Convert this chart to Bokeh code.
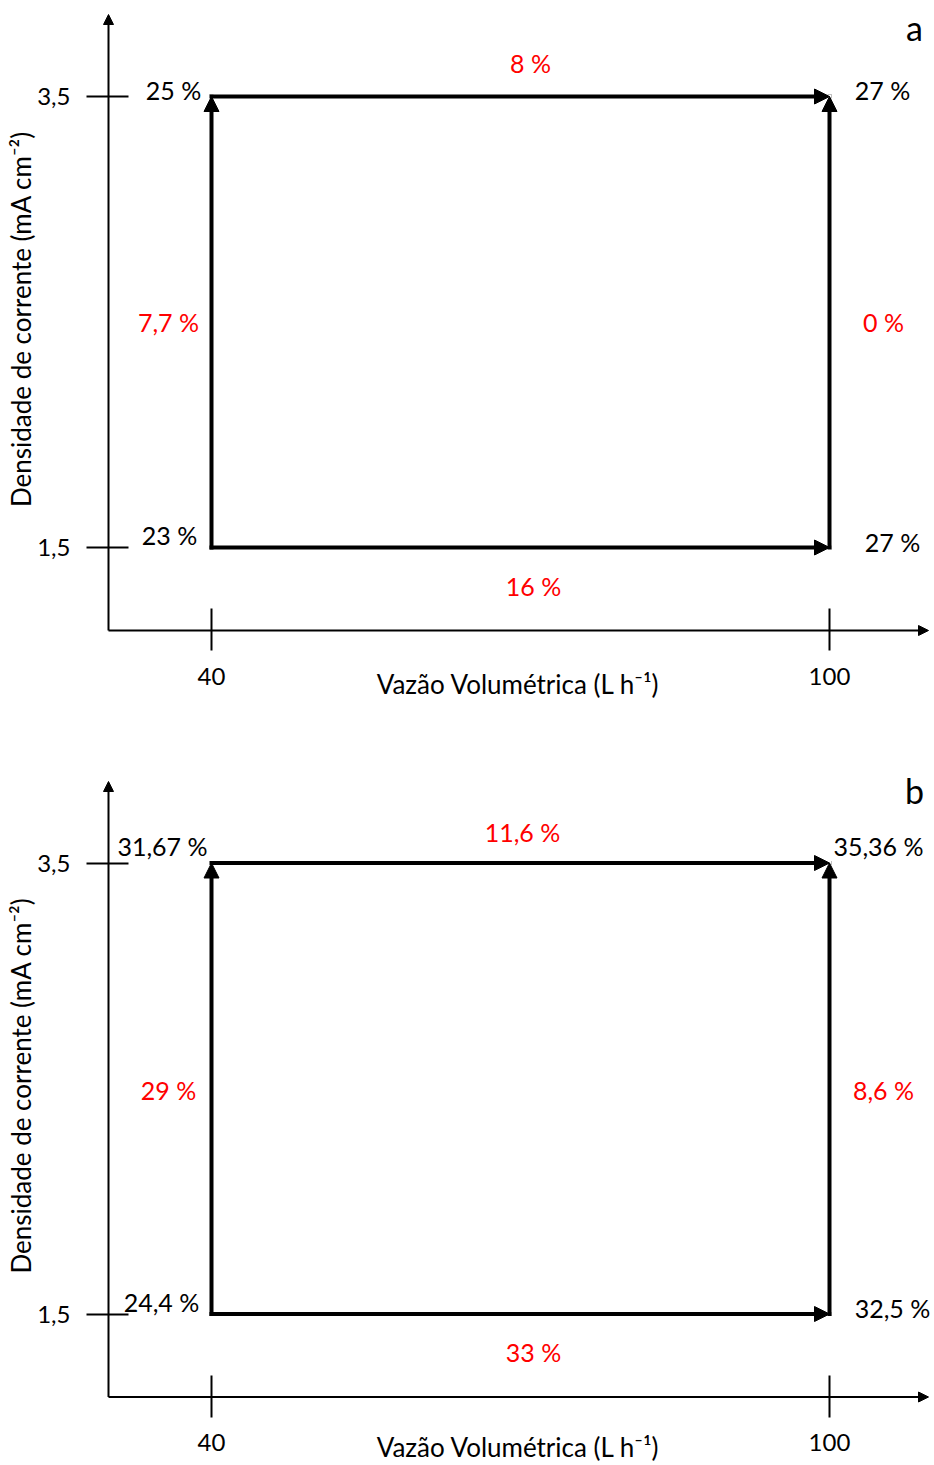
import math
from bokeh.plotting import figure
from bokeh.layouts import column
from bokeh.models import Arrow, NormalHead, FixedTicker, ColumnDataSource, Range1d
from bokeh.core.properties import value
from bokeh.embed import file_html
from bokeh.resources import INLINE

# ---------------- data ----------------
vazao = [40, 100]          # Vazão Volumétrica (L h-1)
densidade = [1.5, 3.5]     # Densidade de corrente (mA cm-2)
# corner order: (40,1.5), (40,3.5), (100,1.5), (100,3.5)
a_corner_labels = ["23 %", "25 %", "27 %", "27 %"]
b_corner_labels = ["24,4 %", "31,67 %", "32,5 %", "35,36 %"]
# edge order: bottom, left, top, right
a_edge_labels = ["16 %", "7,7 %", "8 %", "0 %"]
b_edge_labels = ["33 %", "29 %", "11,6 %", "8,6 %"]
panel_letters = ["a", "b"]
x_title = "Vazão Volumétrica (L h\u207b\u00b9)"
y_title = "Densidade de corrente (mA cm\u207b\u00b2)"
x_ticks = vazao
y_ticks = densidade
y_tick_labels = {v: str(v).replace(".", ",") for v in y_ticks}

# ---------------- style / layout (pixels) ----------------
FONT = value("Lato")
W = 934
PX_X = 10.3    # px per (L h-1)
PX_Y = 225.5   # px per (mA cm-2)
X40_PX = 211   # screen x of the first flow value
AXIS_GAP_X = 103   # y axis sits this far left of the first flow value
AXIS_GAP_Y = 83    # x axis sits this far below the lowest density
ARROW_X_PX = 928   # tip of x axis arrow

# label offsets (screen px, centre of text relative to its anchor)
a_corner_off = [(-42, -13), (-38, -7), (63, -6), (53, -7)]
a_edge_off = [(13, 38), (-43, 0), (10, -34), (54, 0)]
b_corner_off = [(-50, -12), (-49, -17), (63, -6), (49, -17)]
b_edge_off = [(13, 38), (-43, 1), (2, -31), (54, 1)]


def make_panel(corner_labels, edge_labels, letter, corner_off, edge_off,
               height, top_px, tip_px, xtitle_px, letter_off):
    # top_px: screen y (inside this figure) of the highest density
    x_start = vazao[0] - X40_PX / PX_X
    x_end = x_start + W / PX_X
    y_end = densidade[1] + top_px / PX_Y
    y_start = y_end - height / PX_Y
    ax_x = vazao[0] - AXIS_GAP_X / PX_X          # data x of the y axis
    ax_y = densidade[0] - AXIS_GAP_Y / PX_Y      # data y of the x axis
    tip_y = densidade[1] + (top_px - tip_px) / PX_Y
    tip_x = ax_x + (ARROW_X_PX - (X40_PX - AXIS_GAP_X)) / PX_X

    p = figure(width=W, height=height, x_range=Range1d(x_start, x_end),
               y_range=Range1d(y_start, y_end), output_backend="svg",
               toolbar_location=None, min_border=0)
    p.outline_line_color = None
    p.grid.visible = False
    p.background_fill_color = "white"
    p.border_fill_color = "white"

    # axes placed at fixed data locations
    p.xaxis.fixed_location = ax_y
    p.yaxis.fixed_location = ax_x
    p.xaxis.bounds = (ax_x, tip_x)
    p.yaxis.bounds = (ax_y, tip_y)
    p.xaxis.ticker = FixedTicker(ticks=x_ticks)
    p.yaxis.ticker = FixedTicker(ticks=y_ticks)
    p.yaxis.major_label_overrides = y_tick_labels
    for ax in (p.xaxis, p.yaxis):
        ax.axis_line_color = None
        ax.major_tick_line_width = 2
        ax.major_tick_line_color = "black"
        ax.minor_tick_line_color = None
        ax.major_label_text_font = "Lato"
        ax.major_label_text_font_size = "24px"
        ax.major_label_text_color = "black"
    p.yaxis.major_tick_in = 20
    p.yaxis.major_tick_out = 22
    p.yaxis.major_label_standoff = 16
    p.xaxis.major_tick_in = 22
    p.xaxis.major_tick_out = 20
    p.xaxis.major_label_standoff = 17

    # axis lines with arrow heads
    head = dict(fill_color="black", line_color="black", line_width=1)
    p.add_layout(Arrow(end=NormalHead(size=10, **head), x_start=ax_x, y_start=ax_y,
                       x_end=tip_x, y_end=ax_y, line_width=2, line_color="black"))
    p.add_layout(Arrow(end=NormalHead(size=10, **head), x_start=ax_x, y_start=ax_y,
                       x_end=ax_x, y_end=tip_y, line_width=2, line_color="black"))

    # axis titles
    p.text(x=[(vazao[0] + vazao[1]) / 2], y=[ax_y], text=[x_title],
           x_offset=-2, y_offset=xtitle_px,
           text_font=FONT, text_font_size="26px", text_color="black",
           text_align="center", text_baseline="middle")
    p.text(x=[ax_x - (108 - 20) / PX_X],
           y=[(densidade[0] + densidade[1]) / 2 + 3 / PX_Y], text=[y_title],
           angle=math.pi / 2,
           text_font=FONT, text_font_size="26px", text_color="black",
           text_align="center", text_baseline="middle")

    # rectangle of arrows
    x0, x1 = vazao
    y0, y1 = densidade
    xs = [x0, x0, x0, x1]
    ys = [y0, y0, y1, y0]
    xe = [x1, x0, x1, x1]
    ye = [y0, y1, y1, y1]
    src = ColumnDataSource(dict(x_start=xs, y_start=ys, x_end=xe, y_end=ye))
    p.add_layout(Arrow(end=NormalHead(size=15, **head),
                       source=src, x_start="x_start", y_start="y_start",
                       x_end="x_end", y_end="y_end", line_width=4,
                       line_color="black", line_cap="square"))

    # corner labels
    cx = [x0, x0, x1, x1]
    cy = [y0, y1, y0, y1]
    csrc = ColumnDataSource(dict(x=cx, y=cy, text=corner_labels,
                                 dx=[o[0] for o in corner_off], dy=[o[1] for o in corner_off]))
    p.text(x="x", y="y", text="text", x_offset="dx", y_offset="dy", source=csrc,
           text_font=FONT, text_font_size="25px", text_color="black",
           text_align="center", text_baseline="middle")

    # edge labels (midpoints)
    ex = [(a + b) / 2 for a, b in zip(xs, xe)]
    ey = [(a + b) / 2 for a, b in zip(ys, ye)]
    esrc = ColumnDataSource(dict(x=ex, y=ey, text=edge_labels,
                                 dx=[o[0] for o in edge_off], dy=[o[1] for o in edge_off]))
    p.text(x="x", y="y", text="text", x_offset="dx", y_offset="dy", source=esrc,
           text_font=FONT, text_font_size="25px", text_color="#ff0000",
           text_align="center", text_baseline="middle")

    # panel letter
    p.text(x=[tip_x], y=[tip_y], text=[letter], x_offset=letter_off[0], y_offset=letter_off[1],
           text_font=FONT, text_font_size="34px", text_color="black",
           text_align="center", text_baseline="middle")
    return p


pa = make_panel(a_corner_labels, a_edge_labels, panel_letters[0], a_corner_off, a_edge_off,
                height=740, top_px=96, tip_px=14, xtitle_px=53, letter_off=(-14, 13))
pb = make_panel(b_corner_labels, b_edge_labels, panel_letters[1], b_corner_off, b_edge_off,
                height=725, top_px=122.5, tip_px=41, xtitle_px=50, letter_off=(-14, 9))

layout = column(pa, pb)
open("out.html", "w").write(file_html(layout, INLINE))
